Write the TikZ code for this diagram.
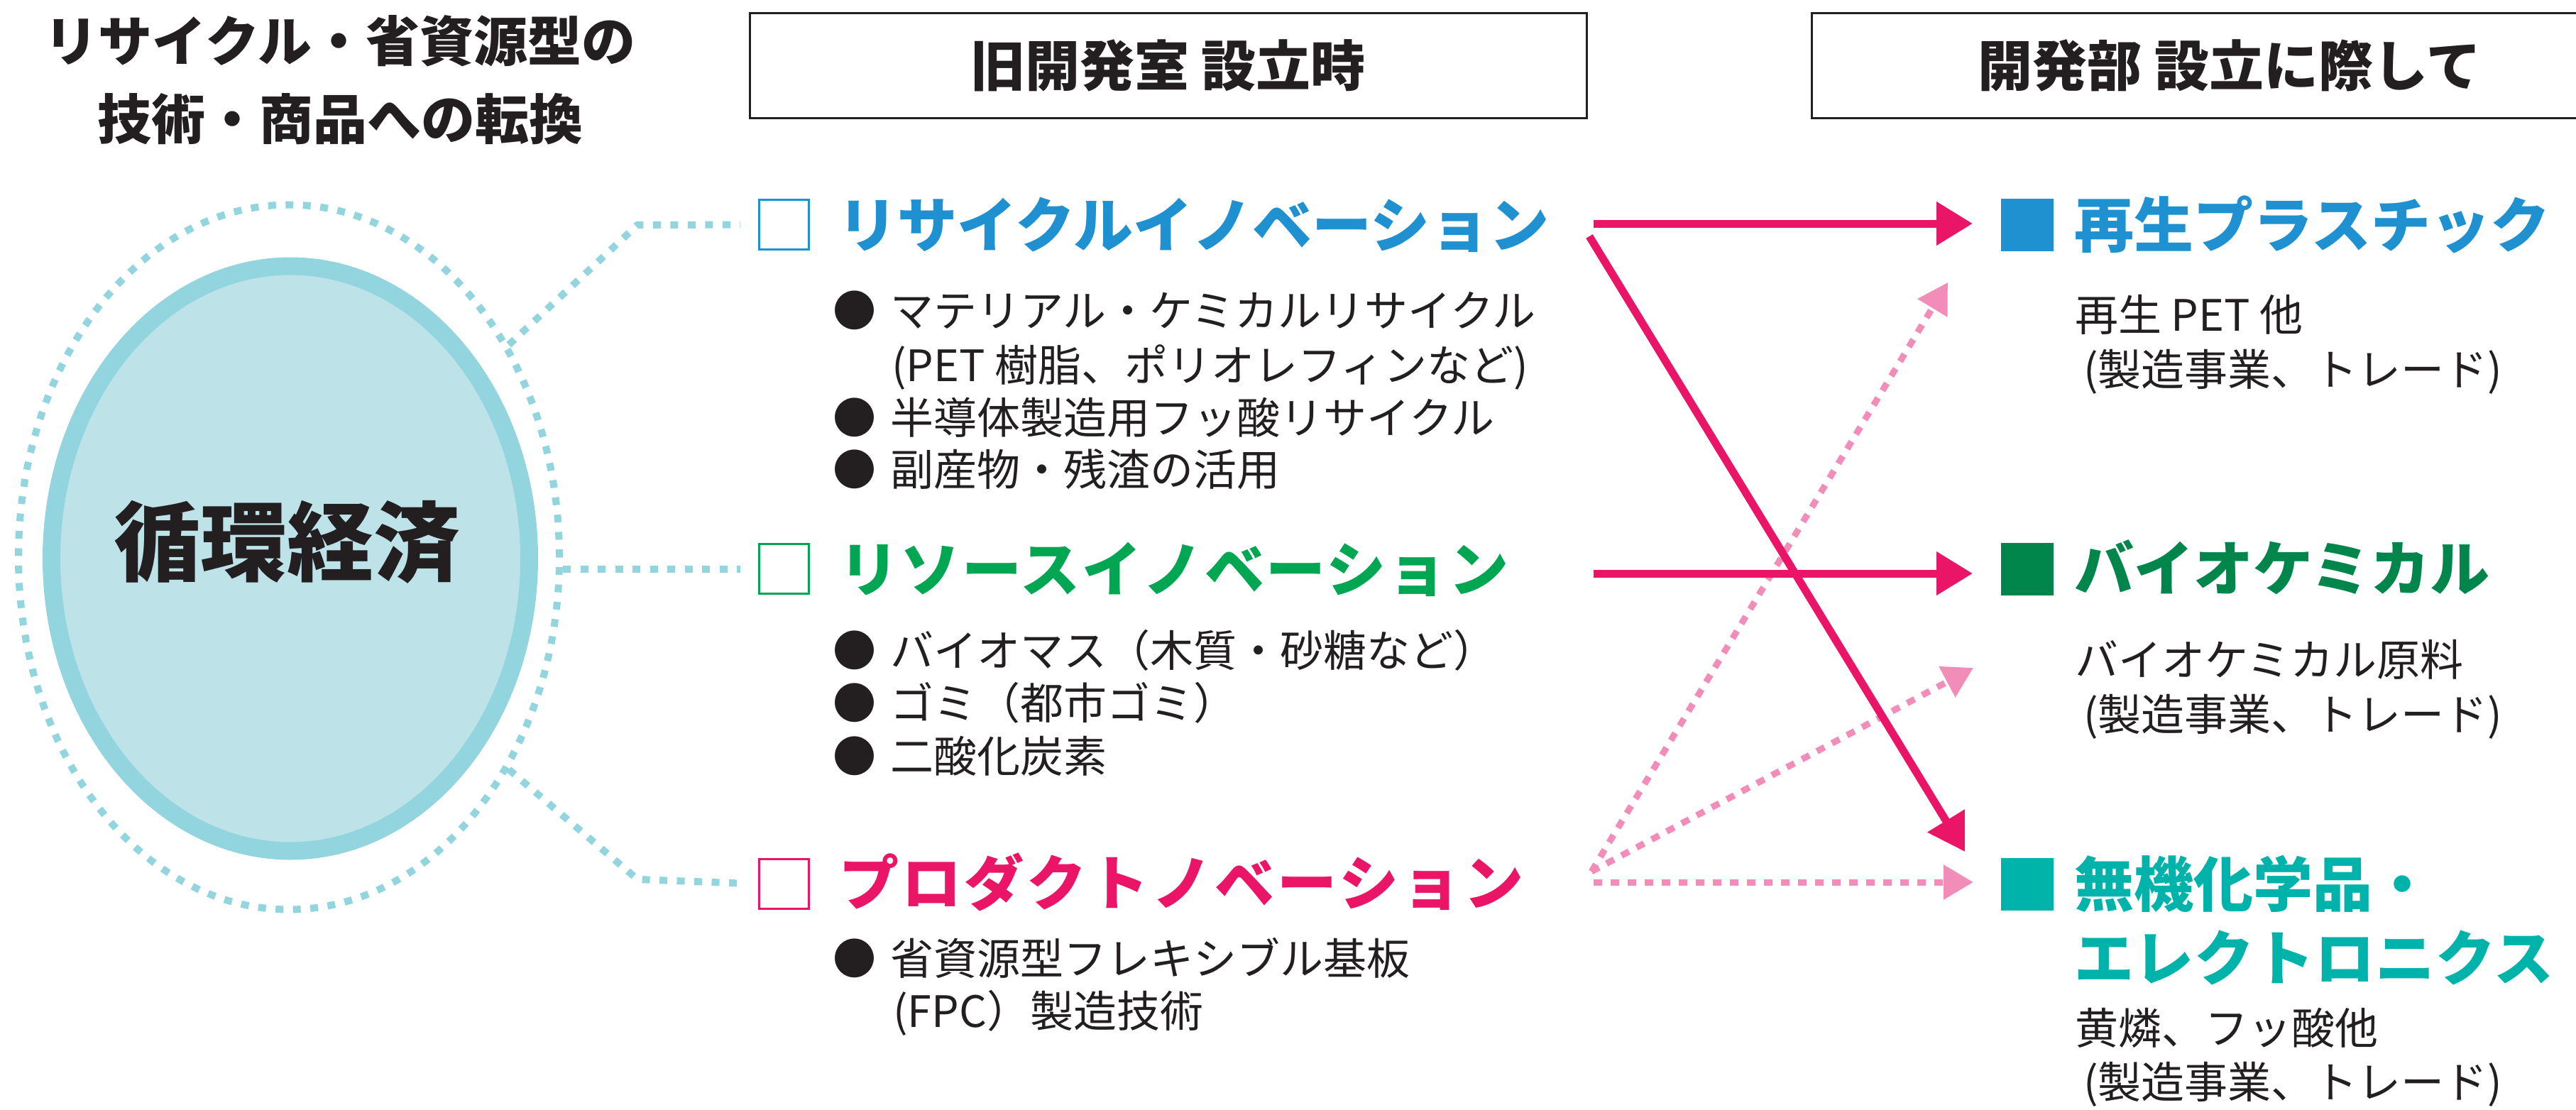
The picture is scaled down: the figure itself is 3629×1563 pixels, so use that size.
\documentclass[tikz,border=0pt]{standalone}
\usepackage{fontspec}
\setmainfont{Noto Sans CJK JP}
\usetikzlibrary{arrows.meta,shapes.geometric}
\definecolor{ink}{HTML}{231F20}
\definecolor{cblue}{HTML}{1F91D0}
\definecolor{cgreen}{HTML}{00A651}
\definecolor{cdgreen}{HTML}{00854A}
\definecolor{cpink}{HTML}{EB1568}
\definecolor{clpink}{HTML}{F28CB9}
\definecolor{cteal}{HTML}{00B3AA}
\definecolor{cring}{HTML}{93D5DE}
\definecolor{cfill}{HTML}{BDE3E9}
\begin{document}
\begin{tikzpicture}[x=1pt,y=-1pt,
  body/.style={font=\fontsize{61pt}{61pt}\selectfont, text=ink, inner sep=0pt, anchor=west, text height=53.7pt, text depth=7.3pt},
  bul/.style={body, anchor=center},
  ttl/.style={font=\fontsize{84pt}{84pt}\selectfont\bfseries, inner sep=0pt, anchor=west, text height=73.9pt, text depth=10.1pt},
  lead/.style={font=\fontsize{76pt}{76pt}\selectfont\bfseries, text=ink, inner sep=0pt, text height=66.9pt, text depth=9.1pt},
  hbox/.style={draw=ink, line width=3pt, font=\fontsize{77pt}{77pt}\selectfont\bfseries, text=ink, inner sep=0pt, text height=67.8pt, text depth=9.2pt, minimum height=147pt, minimum width=1179pt},
  chk/.style={draw, line width=3pt, minimum size=70pt, inner sep=0pt},
  sqf/.style={minimum size=74pt, inner sep=0pt},
  ringdot/.style={draw=cring, line width=10pt, dash pattern=on 11pt off 13.5pt},
  sarrow/.style={draw=cpink, line width=11pt, -{Triangle[length=51pt,width=59pt]}},
  darrow/.style={draw=clpink, line width=9pt, dash pattern=on 12pt off 12pt, -{Triangle[length=42pt,width=47pt]}}
]
\useasboundingbox (0,0) rectangle (3629,1563);
\clip (0,0) rectangle (3629,1563);

% top-left lead
\node[lead] (lead1) at (479,58) {リサイクル・省資源型の};
\node[lead] (lead2) at (479,168) {技術・商品への転換};

% headers
\node[hbox] (h1) at (1645.5,92.5) {旧開発室 設立時};
\node[hbox, minimum width=1178pt] (h2) at (3141,92.5) {開発部 設立に際して};

% circular economy
\node[ellipse, ringdot, minimum width=762pt, minimum height=993pt, inner sep=0pt] (ring) at (407,785) {};
\node[ellipse, draw=cring, fill=cfill, line width=25pt, minimum width=673pt, minimum height=824pt, inner sep=0pt] (core) at (409,787) {};
\node[font=\fontsize{122pt}{122pt}\selectfont\bfseries, text=ink, inner sep=0pt, text height=107.4pt, text depth=14.6pt] (ce) at (404,763) {循環経済};

% left check boxes and titles
\node[chk, draw=cblue] (s1) at (1104.5,316.5) {};
\node[chk, draw=cgreen] (s2) at (1104.5,801.5) {};
\node[chk, draw=cpink] (s3) at (1104.5,1245.5) {};
\node[ttl, text=cblue] (r1) at (1180,317) {リサイクルイノベーション};
\node[ttl, text=cgreen] (r2) at (1182,802) {\addfontfeatures{LetterSpace=3}リソースイノベーション};
\node[ttl, text=cpink] (r3) at (1182,1244) {\addfontfeatures{LetterSpace=5}プロダクトノベーション};

% bullets row 1
\node[bul] (d11) at (1204,437) {●};
\node[body] (a1) at (1254,437) {マテリアル・ケミカルリサイクル};
\node[body] (a2) at (1256,514) {(PET 樹脂、ポリオレフィンなど)};
\node[bul] (d12) at (1204,588) {●};
\node[body] (a3) at (1254,588) {半導体製造用フッ酸リサイクル};
\node[bul] (d13) at (1204,661) {●};
\node[body] (a4) at (1254,661) {副産物・残渣の活用};
% bullets row 2
\node[bul] (d21) at (1204,916) {●};
\node[body] (b1) at (1254,916) {バイオマス（木質・砂糖など）};
\node[bul] (d22) at (1204,990) {●};
\node[body] (b2) at (1254,990) {ゴミ（都市ゴミ）};
\node[bul] (d23) at (1204,1065) {●};
\node[body] (b3) at (1254,1065) {二酸化炭素};
% bullets row 3
\node[bul] (d31) at (1204,1350) {●};
\node[body] (c1) at (1254,1350) {省資源型フレキシブル基板};
\node[body] (c2) at (1258,1424) {(FPC）製造技術};

% right column
\node[sqf, fill=cblue] (p1) at (2856,316.5) {};
\node[ttl, text=cblue] (q1) at (2922,317) {再生プラスチック};
\node[body] (q1a) at (2923,443) {再生 PET 他};
\node[body] (q1b) at (2935,520) {(製造事業、トレード)};
\node[sqf, fill=cdgreen] (p2) at (2856,802) {};
\node[ttl, text=cdgreen] (q2) at (2922,801) {バイオケミカル};
\node[body] (q2a) at (2923,929) {バイオケミカル原料};
\node[body] (q2b) at (2935,1006) {(製造事業、トレード)};
\node[sqf, fill=cteal] (p3) at (2856,1246) {};
\node[ttl, text=cteal] (q3) at (2922,1246) {無機化学品・};
\node[ttl, text=cteal] (q3b) at (2922,1350) {\addfontfeatures{LetterSpace=1}エレクトロニクス};
\node[body] (q3c) at (2923,1448) {黄燐、フッ酸他};
\node[body] (q3d) at (2935,1524) {(製造事業、トレード)};

% dotted connectors from ring
\coordinate (k1) at (898,317);
\coordinate (k3) at (898,1239);
\draw[ringdot, shorten >=25pt] (ring.44) -- (k1) -- (s1.west);
\draw[ringdot, shorten >=25pt] (ring.east |- s2.west) -- (s2.west);
\draw[ringdot, shorten >=25pt] (ring.-44) -- (k3) -- (s3.west);

% arrows
\coordinate (o1) at (2245,315);
\coordinate (o1d) at (2239,333);
\coordinate (o2) at (2245,808);
\coordinate (o3) at (2242,1228);
\coordinate (o3h) at (2245,1243);
\coordinate (e1) at (2779,315);
\coordinate (e2) at (2779,808);
\coordinate (e3) at (2768,1200);
\coordinate (f1) at (2744,398);
\coordinate (f2) at (2780,941);
\coordinate (f3) at (2780,1243);
\draw[darrow] (o3) -- (f1);
\draw[darrow] (o3) -- (f2);
\draw[darrow] (o3h) -- (f3);
\draw[sarrow] (o1) -- (e1);
\draw[sarrow] (o2) -- (e2);
\draw[sarrow] (o1d) -- (e3);
\end{tikzpicture}
\end{document}
